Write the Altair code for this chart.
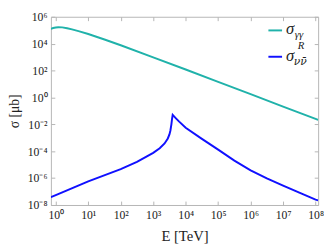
import altair as alt
import pandas as pd

# sigma_gamma-gamma
energy_gg = [0.708, 0.832, 1, 1.2, 1.58, 2.24, 3.16, 5.01, 10, 31.6, 100, 1e3, 1e4, 1e5, 1e6, 1e7, 1e8, 1.2e8]
sigma_gg = [1.26e5, 1.45e5, 1.58e5, 1.66e5, 1.62e5, 1.41e5, 1.15e5, 8.5e4, 5.25e4, 2.04e4, 7.6e3, 955, 120,
            14.5, 1.74, 0.209, 0.0251, 0.0214]

# sigma_nu-nubar^R
energy_nn = [0.708, 1, 10, 100, 316, 1000, 1585, 2239, 2818, 3162, 3388, 3631, 3802, 3981,
             5012, 6310, 1e4, 3.16e4, 1e5, 3.16e5, 1e6, 3.16e6, 1e7, 3.16e7, 1e8, 1.2e8]
sigma_nn = [3.8e-8, 5.4e-8, 5.8e-7, 4.6e-6, 1.6e-5, 7.6e-5, 1.66e-4, 3.8e-4, 8.9e-4, 1.78e-3, 3.5e-3, 1.0e-2,
            2.5e-2, 5.0e-2, 2.8e-2, 1.58e-2, 5.5e-3, 8.3e-4, 1.32e-4, 2.0e-5, 3.8e-6, 9.5e-7, 2.75e-7,
            8.3e-8, 2.5e-8, 2.2e-8]

series_names = ["gg", "nn"]
series_colors = ["#20b2aa", "#1010ff"]

x_ticks = [1, 10, 100, 1e3, 1e4, 1e5, 1e6, 1e7, 1e8]
y_ticks = [1e-8, 1e-6, 1e-4, 1e-2, 1, 1e2, 1e4, 1e6]

df = pd.concat([
    pd.DataFrame({"E": energy_gg, "sigma": sigma_gg, "series": series_names[0]}),
    pd.DataFrame({"E": energy_nn, "sigma": sigma_nn, "series": series_names[1]}),
])

W, H = 274, 193
FONT = "Liberation Serif"
FRAME = "#b5b5b5"
TXT = "#222222"

xscale = alt.Scale(type="log", domain=[0.708, 1.2e8], nice=False)
yscale = alt.Scale(type="log", domain=[1e-8, 1e6], nice=False)

EXP = "round(log(datum.value)/LN10)"
label_expr = ("'10' + (" + EXP + " < 0 ? '⁻' : '') + substring('⁰¹²³⁴⁵⁶⁷⁸⁹', abs(" + EXP
              + "), abs(" + EXP + ") + 1)")

common = dict(grid=False, domain=False, labelFont=FONT, labelFontSize=12, labelColor=TXT,
              titleFont=FONT, titleColor=TXT, titleFontWeight="normal")

lines = alt.Chart(df).mark_line(strokeWidth=2, clip=True, interpolate="linear").encode(
    x=alt.X("E:Q", scale=xscale, axis=alt.Axis(values=x_ticks, labelExpr=label_expr, ticks=False,
                                                labelPadding=5, title="E [TeV]", titlePadding=8,
                                                titleFontSize=15, **common)),
    y=alt.Y("sigma:Q", scale=yscale, axis=alt.Axis(values=y_ticks, labelExpr=label_expr, ticks=False,
                                                    labelPadding=4, title="σ [μb]", titlePadding=6,
                                                    titleFontSize=14, **common)),
    color=alt.Color("series:N", scale=alt.Scale(domain=series_names, range=series_colors), legend=None),
)

tick_common = dict(labels=False, ticks=True, tickSize=4, tickColor=FRAME, domain=False, grid=False, title=None)

ticks_a = alt.Chart(df).mark_point(opacity=0).encode(
    x=alt.X("E:Q", scale=xscale, axis=alt.Axis(orient="top", offset=-H, values=x_ticks, **tick_common)),
    y=alt.Y("sigma:Q", scale=yscale, axis=alt.Axis(orient="right", offset=-W, values=y_ticks, **tick_common)),
)
ticks_b = alt.Chart(df).mark_point(opacity=0).encode(
    x=alt.X("E:Q", scale=xscale, axis=alt.Axis(orient="bottom", offset=-H, values=x_ticks, **tick_common)),
    y=alt.Y("sigma:Q", scale=yscale, axis=alt.Axis(orient="left", offset=-W, values=y_ticks, **tick_common)),
)

one = pd.DataFrame({"k": [0]})
leg_rule1 = alt.Chart(one).mark_rule(color=series_colors[0], strokeWidth=2).encode(
    x=alt.value(223), x2=alt.value(237), y=alt.value(14))
leg_rule2 = alt.Chart(one).mark_rule(color=series_colors[1], strokeWidth=2).encode(
    x=alt.value(223), x2=alt.value(237), y=alt.value(41))

def txt(s, x, y, size, style="italic", font=FONT):
    return alt.Chart(one).mark_text(text=s, font=font, fontSize=size, fontStyle=style, color=TXT,
                                    align="left", baseline="middle").encode(x=alt.value(x), y=alt.value(y))

legend = [
    txt("σ", 241, 13, 17),
    txt("γγ", 250, 19, 11),
    txt("σ", 241, 40, 17),
    txt("R", 253, 30, 11),
    txt("νν̄", 249, 46, 11, font="DejaVu Serif"),
]

chart = alt.layer(lines, ticks_a, ticks_b, leg_rule1, leg_rule2, *legend).resolve_axis(
    x="independent", y="independent"
).properties(
    width=W, height=H,
    autosize=alt.AutoSizeParams(type="none"),
    padding={"left": 44, "top": 6, "right": 6, "bottom": 37},
).configure_view(stroke=FRAME, strokeWidth=1)

chart.save("out.html", embed_options={"renderer": "svg", "actions": False})
